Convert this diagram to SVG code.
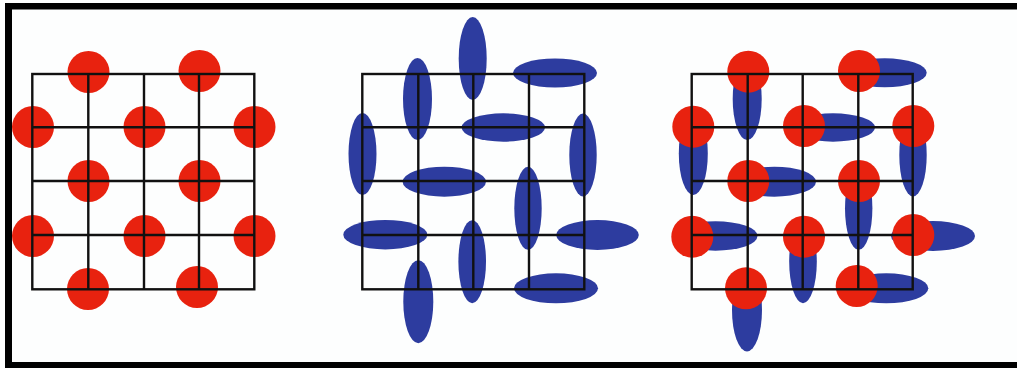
<svg xmlns="http://www.w3.org/2000/svg" width="1017" height="368" viewBox="0 0 1017 368">
<style>
.g{fill:none;stroke:#111;stroke-width:2.4}
.r{fill:#e8220f}
.b{fill:#2d3c9f}
</style>
<rect width="1017" height="368" fill="#fdfefe"/>
<g id="frame" fill="#000">
<rect x="5" y="3" width="1012" height="6.5"/>
<rect x="5" y="3" width="7" height="365"/>
<rect x="5" y="362" width="1012" height="6"/>
</g>
<g id="panel1">
<g class="r">
<circle cx="88.5" cy="72" r="21"/><circle cx="199.5" cy="71" r="21"/>
<circle cx="33" cy="127" r="21"/><circle cx="144.5" cy="127" r="21"/><circle cx="254.5" cy="127" r="21"/>
<circle cx="88.5" cy="181" r="21"/><circle cx="199.5" cy="181" r="21"/>
<circle cx="33" cy="236" r="21"/><circle cx="144.5" cy="236" r="21"/><circle cx="254.5" cy="236" r="21"/>
<circle cx="88" cy="289" r="21"/><circle cx="197" cy="287" r="21"/>
</g>
<g class="g">
<rect x="32.3" y="74" width="222" height="215.3"/>
<path d="M88.3 74V289.3M144 74V289.3M199 74V289.3M32.3 127.3H254.3M32.3 181H254.3M32.3 235H254.3"/>
</g>
</g>
<g id="panel2">
<g class="b">
<ellipse cx="417.5" cy="99" rx="14.5" ry="41"/>
<ellipse cx="472.7" cy="58.5" rx="14" ry="41.5"/>
<ellipse cx="555" cy="73" rx="42" ry="14.5"/>
<ellipse cx="503.3" cy="127.5" rx="41.7" ry="14.2"/>
<ellipse cx="362.5" cy="154" rx="14" ry="41"/>
<ellipse cx="583" cy="155" rx="13.7" ry="41.5"/>
<ellipse cx="444.3" cy="181.7" rx="41.7" ry="15"/>
<ellipse cx="528" cy="208.3" rx="13.7" ry="41.5"/>
<ellipse cx="385.3" cy="234.7" rx="42" ry="14.7"/>
<ellipse cx="597.5" cy="235" rx="41.3" ry="15"/>
<ellipse cx="472.2" cy="261.7" rx="13.8" ry="41.5"/>
<ellipse cx="418.3" cy="301.7" rx="15" ry="41.5"/>
<ellipse cx="556" cy="288.3" rx="42" ry="15"/>
</g>
<g class="g">
<rect x="362.3" y="74" width="222" height="215.3"/>
<path d="M418.3 74V289.3M473.3 74V289.3M529 74V289.3M362.3 127.3H584.3M362.3 181H584.3M362.3 235H584.3"/>
</g>
</g>
<g id="panel3">
<g class="b">
<ellipse cx="747.2" cy="99" rx="14.5" ry="41"/>
<ellipse cx="884.7" cy="72.8" rx="42" ry="14.5"/>
<ellipse cx="833" cy="127.5" rx="42" ry="14.2"/>
<ellipse cx="693.3" cy="153.5" rx="14.5" ry="41.5"/>
<ellipse cx="913" cy="155" rx="13.7" ry="41.5"/>
<ellipse cx="774.3" cy="181.7" rx="41.7" ry="15"/>
<ellipse cx="858.7" cy="208.3" rx="13.7" ry="41.5"/>
<ellipse cx="715.5" cy="236" rx="42" ry="14.7"/>
<ellipse cx="933" cy="236" rx="42" ry="15"/>
<ellipse cx="803" cy="261.7" rx="13.8" ry="41.5"/>
<ellipse cx="747" cy="310" rx="15" ry="41.5"/>
<ellipse cx="886.3" cy="288.3" rx="42" ry="15"/>
</g>
<g class="r">
<circle cx="748.3" cy="71.7" r="21"/><circle cx="859" cy="71" r="21"/>
<circle cx="693.3" cy="126.7" r="21"/><circle cx="804" cy="126" r="21"/><circle cx="913.3" cy="126" r="21"/>
<circle cx="748.3" cy="181" r="21"/><circle cx="859" cy="181" r="21"/>
<circle cx="692.3" cy="236.7" r="21"/><circle cx="804" cy="236.7" r="21"/><circle cx="913.3" cy="235" r="21"/>
<circle cx="746" cy="288.3" r="21"/><circle cx="856.7" cy="286" r="21"/>
</g>
<g class="g">
<rect x="691.7" y="74" width="221" height="215.3"/>
<path d="M747.7 74V289.3M802.7 74V289.3M858.3 74V289.3M691.7 127.3H912.7M691.7 181H912.7M691.7 235H912.7"/>
</g>
</g>
</svg>
